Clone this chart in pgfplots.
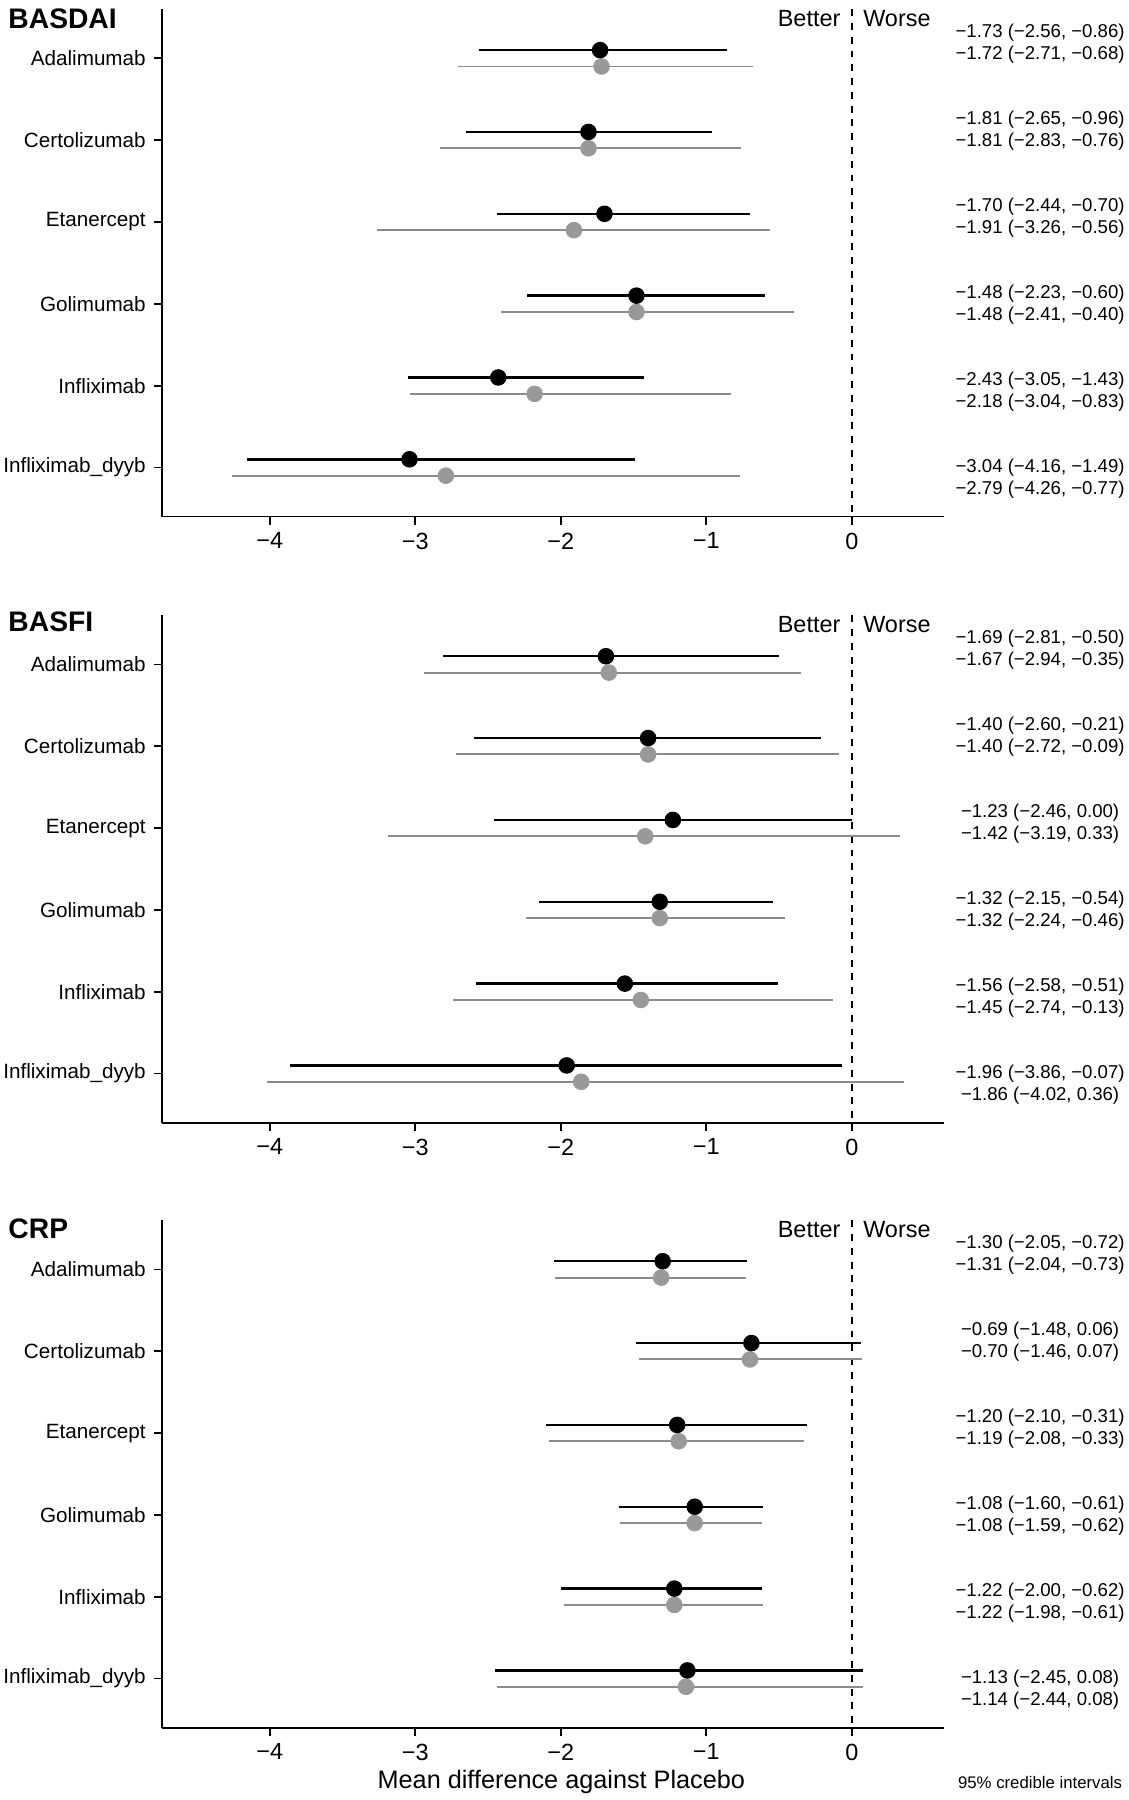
\documentclass[border=0pt]{standalone}
\usepackage{pgfplots}
\pgfplotsset{compat=1.18}
\usepackage{pgfplotstable}
\usepackage{fontspec}
\setmainfont{Liberation Sans}
\definecolor{mygrey}{HTML}{999999}
\definecolor{mygreyl}{HTML}{8C8C8C}

\pgfplotstableread{
r mb lb hb mg lg hg
1 -1.73 -2.56 -0.86 -1.72 -2.71 -0.68
2 -1.81 -2.65 -0.96 -1.81 -2.83 -0.76
3 -1.70 -2.44 -0.70 -1.91 -3.26 -0.56
4 -1.48 -2.23 -0.60 -1.48 -2.41 -0.40
5 -2.43 -3.05 -1.43 -2.18 -3.04 -0.83
6 -3.04 -4.16 -1.49 -2.79 -4.26 -0.77
}\basdai
\pgfplotstableread{
r mb lb hb mg lg hg
1 -1.69 -2.81 -0.50 -1.67 -2.94 -0.35
2 -1.40 -2.60 -0.21 -1.40 -2.72 -0.09
3 -1.23 -2.46 0.00 -1.42 -3.19 0.33
4 -1.32 -2.15 -0.54 -1.32 -2.24 -0.46
5 -1.56 -2.58 -0.51 -1.45 -2.74 -0.13
6 -1.96 -3.86 -0.07 -1.86 -4.02 0.36
}\basfi
\pgfplotstableread{
r mb lb hb mg lg hg
1 -1.30 -2.05 -0.72 -1.31 -2.04 -0.73
2 -0.69 -1.48 0.06 -0.70 -1.46 0.07
3 -1.20 -2.10 -0.31 -1.19 -2.08 -0.33
4 -1.08 -1.60 -0.61 -1.08 -1.59 -0.62
5 -1.22 -2.00 -0.62 -1.22 -1.98 -0.61
6 -1.13 -2.45 0.08 -1.14 -2.44 0.08
}\crp

\pgfplotsset{
  forest/.style={
    scale only axis, width=340.5pt, height=221pt,
    anchor=south west,
    xmin=-4.742, xmax=0.631, ymin=0.4, ymax=6.6, y dir=reverse,
    axis x line*=bottom, axis y line*=left,
    axis line style={line width=0.75pt, black, -},
    tick style={line width=0.75pt, black},
    tick align=outside, major tick length=3.5pt,
    xtick={-4,-3,-2,-1,0}, xticklabels={−4,−3,−2,−1,0},
    ytick={1,2,3,4,5,6},
    yticklabels={Adalimumab,Certolizumab,Etanercept,Golimumab,Infliximab,Infliximab\_dyyb},
    x tick label style={font=\fontsize{10.2}{12}\selectfont},
    y tick label style={font=\fontsize{9}{11}\selectfont},
    clip=false,
  },
  greyplot/.style={only marks, mark=*, mark size=3.4pt, color=mygrey,
    error bars/.cd, x dir=both, x explicit, error mark=none,
    error bar style={line width=0.85pt, mygreyl}},
  blackplot/.style={only marks, mark=*, mark size=3.4pt, color=black,
    error bars/.cd, x dir=both, x explicit, error mark=none,
    error bar style={line width=1.05pt, black}},
}
\tikzset{
  rtxt/.style={align=center, font=\fontsize{8.1}{9.7}\selectfont},
  bw/.style={font=\fontsize{10.2}{12}\selectfont, inner sep=0pt},
  ttl/.style={anchor=west, inner sep=0pt, font=\bfseries\fontsize{12.3}{14}\selectfont},
}

\newcommand{\panelplots}[1]{%
  \draw[line width=0.75pt, dash pattern=on 3pt off 3pt] (axis cs:0,0.4) -- (axis cs:0,6.6);
  \addplot[greyplot] table[x=mg, y expr=\thisrow{r}+0.1,
     x error minus expr=\thisrow{mg}-\thisrow{lg},
     x error plus expr=\thisrow{hg}-\thisrow{mg}] {#1};
  \addplot[blackplot] table[x=mb, y expr=\thisrow{r}-0.1,
     x error minus expr=\thisrow{mb}-\thisrow{lb},
     x error plus expr=\thisrow{hb}-\thisrow{mb}] {#1};
  \node[bw, anchor=east, xshift=-4.8pt] at (axis cs:0,0.51) {Better};
  \node[bw, anchor=west, xshift=4.8pt] at (axis cs:0,0.51) {Worse};
}

\begin{document}
\begin{tikzpicture}
\path[use as bounding box] (0,0) rectangle (491.5pt,-784pt);

% ---------- BASDAI ----------
\node[ttl] at (3.5pt,-8pt) {BASDAI};
\begin{axis}[forest, at={(70.5pt,-225pt)}]
\panelplots{\basdai}
\node[rtxt] at (axis cs:1.294,0.818) {−1.73 (−2.56, −0.86)\\−1.72 (−2.71, −0.68)};
\node[rtxt] at (axis cs:1.294,1.881) {−1.81 (−2.65, −0.96)\\−1.81 (−2.83, −0.76)};
\node[rtxt] at (axis cs:1.294,2.944) {−1.70 (−2.44, −0.70)\\−1.91 (−3.26, −0.56)};
\node[rtxt] at (axis cs:1.294,4.007) {−1.48 (−2.23, −0.60)\\−1.48 (−2.41, −0.40)};
\node[rtxt] at (axis cs:1.294,5.070) {−2.43 (−3.05, −1.43)\\−2.18 (−3.04, −0.83)};
\node[rtxt] at (axis cs:1.294,6.133) {−3.04 (−4.16, −1.49)\\−2.79 (−4.26, −0.77)};
\end{axis}

% ---------- BASFI ----------
\node[ttl] at (3.5pt,-271pt) {BASFI};
\begin{axis}[forest, at={(70.5pt,-489pt)}]
\panelplots{\basfi}
\node[rtxt] at (axis cs:1.294,0.818) {−1.69 (−2.81, −0.50)\\−1.67 (−2.94, −0.35)};
\node[rtxt] at (axis cs:1.294,1.881) {−1.40 (−2.60, −0.21)\\−1.40 (−2.72, −0.09)};
\node[rtxt] at (axis cs:1.294,2.944) {−1.23 (−2.46, 0.00)\\−1.42 (−3.19, 0.33)};
\node[rtxt] at (axis cs:1.294,4.007) {−1.32 (−2.15, −0.54)\\−1.32 (−2.24, −0.46)};
\node[rtxt] at (axis cs:1.294,5.070) {−1.56 (−2.58, −0.51)\\−1.45 (−2.74, −0.13)};
\node[rtxt] at (axis cs:1.294,6.133) {−1.96 (−3.86, −0.07)\\−1.86 (−4.02, 0.36)};
\end{axis}

% ---------- CRP ----------
\node[ttl] at (3.5pt,-535pt) {CRP};
\begin{axis}[forest, at={(70.5pt,-752.5pt)}]
\panelplots{\crp}
\node[rtxt] at (axis cs:1.294,0.818) {−1.30 (−2.05, −0.72)\\−1.31 (−2.04, −0.73)};
\node[rtxt] at (axis cs:1.294,1.881) {−0.69 (−1.48, 0.06)\\−0.70 (−1.46, 0.07)};
\node[rtxt] at (axis cs:1.294,2.944) {−1.20 (−2.10, −0.31)\\−1.19 (−2.08, −0.33)};
\node[rtxt] at (axis cs:1.294,4.007) {−1.08 (−1.60, −0.61)\\−1.08 (−1.59, −0.62)};
\node[rtxt] at (axis cs:1.294,5.070) {−1.22 (−2.00, −0.62)\\−1.22 (−1.98, −0.61)};
\node[rtxt] at (axis cs:1.294,6.133) {−1.13 (−2.45, 0.08)\\−1.14 (−2.44, 0.08)};
\end{axis}

\node[font=\fontsize{11}{13}\selectfont] at (244.5pt,-776pt) {Mean difference against Placebo};
\node[font=\fontsize{7.3}{9}\selectfont] at (453pt,-776.5pt) {95\% credible intervals};
\end{tikzpicture}
\end{document}
